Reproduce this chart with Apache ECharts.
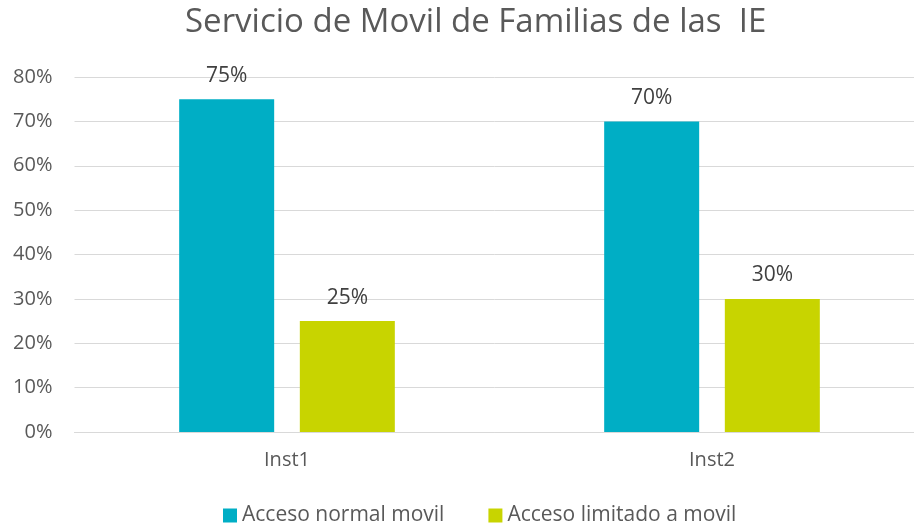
<!DOCTYPE html>
<html>
<head>
<meta charset="utf-8">
<script src="https://cdn.jsdelivr.net/npm/echarts@6/dist/echarts.min.js"></script>
<style>
  html, body { margin: 0; padding: 0; background: #fff; }
  #chart { width: 914px; height: 526px; }
</style>
</head>
<body>
<div id="chart"></div>
<script>
var categories = ['Inst1', 'Inst2'];
var normalMovil = [0.75, 0.70];
var limitadoMovil = [0.25, 0.30];
var seriesNames = ['Acceso normal movil', 'Acceso limitado a movil'];

var fontName = '"Open Sans", sans-serif';
var chart = echarts.init(document.getElementById('chart'));

function pct(v) {
    return Math.round(v * 100) + '%';
}

chart.setOption({
    animation: false,
    title: {
        text: 'Servicio de Movil de Familias de las  IE',
        left: 180,
        top: 1,
        textStyle: { color: '#595959', fontSize: 33, fontWeight: 'normal', fontFamily: fontName }
    },
    color: ['#00AEC5', '#C8D400'],
    legend: {
        bottom: -5,
        left: 218,
        itemWidth: 14,
        itemHeight: 14,
        itemGap: 44,
        icon: 'rect',
        textStyle: { color: '#595959', fontSize: 21, fontFamily: fontName },
        data: seriesNames
    },
    grid: {
        left: 74.5,
        width: 850,
        top: 77,
        bottom: 94,
        outerBoundsMode: 'none'
    },
    xAxis: {
        type: 'category',
        data: categories,
        axisLine: { lineStyle: { color: '#D9D9D9' } },
        axisTick: { show: false },
        axisLabel: { color: '#595959', fontSize: 20, fontFamily: fontName, margin: 18 }
    },
    yAxis: {
        type: 'value',
        min: 0,
        max: 0.8,
        interval: 0.1,
        axisLine: { show: false },
        axisTick: { show: false },
        splitLine: { lineStyle: { color: '#D9D9D9' } },
        axisLabel: {
            color: '#595959', fontSize: 20, fontFamily: fontName, margin: 22,
            formatter: pct
        }
    },
    series: [
        {
            name: seriesNames[0],
            type: 'bar',
            data: normalMovil,
            barWidth: 95,
            barGap: '27%',
            label: {
                show: true, position: 'top', distance: 13,
                color: '#404040', fontSize: 21, fontFamily: fontName,
                formatter: function (p) { return pct(p.value); }
            }
        },
        {
            name: seriesNames[1],
            type: 'bar',
            data: limitadoMovil,
            barWidth: 95,
            label: {
                show: true, position: 'top', distance: 13,
                color: '#404040', fontSize: 21, fontFamily: fontName,
                formatter: function (p) { return pct(p.value); }
            }
        }
    ]
});
</script>
</body>
</html>
